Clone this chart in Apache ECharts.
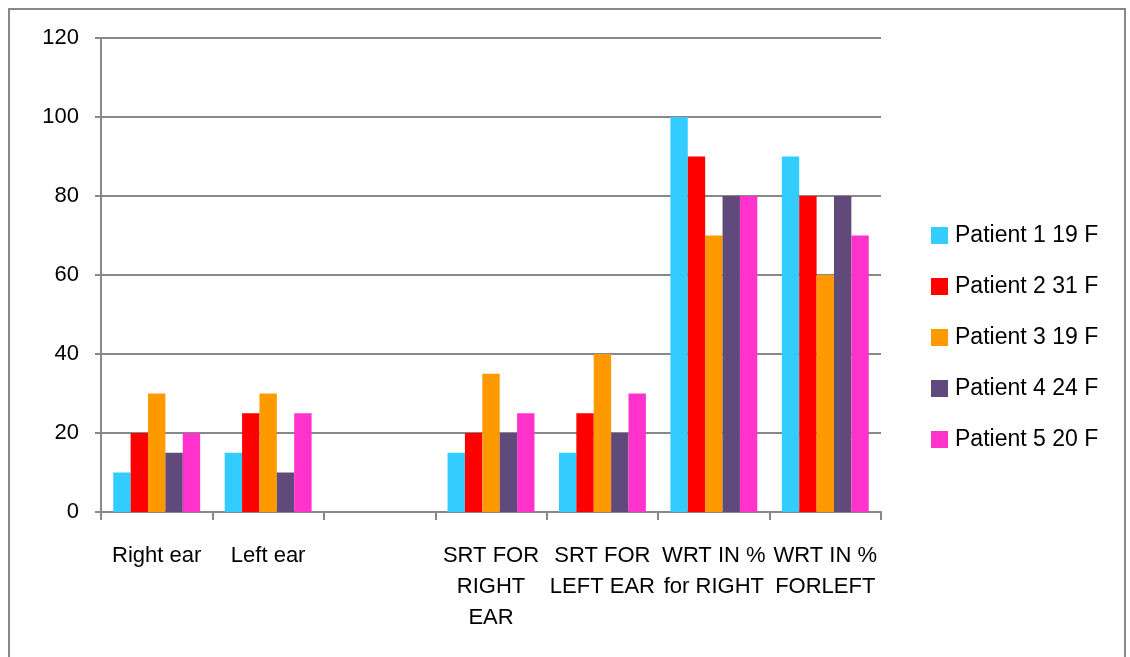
<!DOCTYPE html>
<html>
<head>
<meta charset="utf-8">
<script src="https://cdn.jsdelivr.net/npm/echarts@6/dist/echarts.min.js"></script>
<style>
  html, body { margin: 0; padding: 0; background: #fff; }
  #frame { position: absolute; left: 8px; top: 8px; width: 1118px; height: 660px; border: 2px solid #888; box-sizing: border-box; }
  #chart { position: absolute; left: 0; top: 0; width: 1130px; height: 657px; }
</style>
</head>
<body>
<div id="frame"></div>
<div id="chart"></div>
<script>
// Hearing test results per patient
const categories = ['Right ear', 'Left ear', '', 'SRT FOR\nRIGHT\nEAR', 'SRT FOR\nLEFT EAR', 'WRT IN %\nfor RIGHT', 'WRT IN %\nFORLEFT'];
const seriesNames = ['Patient 1 19 F', 'Patient 2 31 F', 'Patient 3 19 F', 'Patient 4 24 F', 'Patient 5 20 F'];
const patient1 = [10, 15, null, 15, 15, 100, 90];
const patient2 = [20, 25, null, 20, 25, 90, 80];
const patient3 = [30, 30, null, 35, 40, 70, 60];
const patient4 = [15, 10, null, 20, 20, 80, 80];
const patient5 = [20, 25, null, 25, 30, 80, 70];
const yTicks = [0, 20, 40, 60, 80, 100, 120];

const colors = ['#33CCFF', '#FF0000', '#FF9900', '#604A7B', '#FF33CC'];
const values = [patient1, patient2, patient3, patient4, patient5];
const font = '"Liberation Sans", Arial, sans-serif';

const chart = echarts.init(document.getElementById('chart'));
chart.setOption({
  animation: false,
  color: colors,
  grid: { left: 101, right: 249, top: 38, bottom: 145 },
  legend: {
    orient: 'vertical',
    left: 926,
    top: 219,
    itemWidth: 17,
    itemHeight: 17,
    itemGap: 28,
    icon: 'rect',
    textStyle: { fontFamily: font, fontSize: 23, color: '#000', padding: [0, 0, 0, 2] },
    data: seriesNames
  },
  xAxis: {
    type: 'category',
    data: categories,
    axisLine: { lineStyle: { color: '#888', width: 2 } },
    axisTick: { show: true, length: 8, lineStyle: { color: '#888', width: 2 } },
    axisLabel: { fontFamily: font, fontSize: 22, color: '#000', margin: 28, lineHeight: 31, interval: 0 }
  },
  yAxis: {
    type: 'value',
    min: yTicks[0],
    max: yTicks[yTicks.length - 1],
    interval: 20,
    axisLine: { show: true, lineStyle: { color: '#888', width: 2 } },
    axisTick: { show: true, length: 6, lineStyle: { color: '#888', width: 2 } },
    splitLine: { lineStyle: { color: '#888', width: 2 } },
    axisLabel: { fontFamily: font, fontSize: 22, color: '#000', margin: 22 }
  },
  series: seriesNames.map((name, i) => ({
    name,
    type: 'bar',
    data: values[i],
    barGap: '0%',
    barCategoryGap: '22%'
  }))
});
</script>
</body>
</html>
